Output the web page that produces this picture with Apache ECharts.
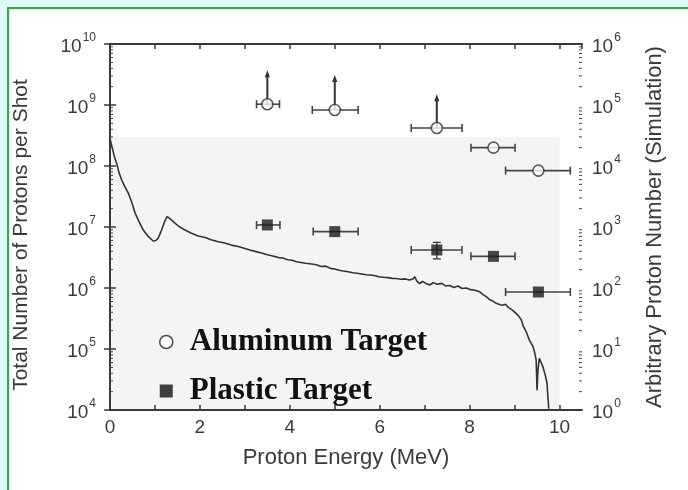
<!DOCTYPE html>
<html>
<head>
<meta charset="utf-8">
<script src="https://cdn.jsdelivr.net/npm/echarts@6/dist/echarts.min.js"></script>
<style>
html,body{margin:0;padding:0;background:#e0fafa;}
#main{width:688px;height:490px;}
</style>
</head>
<body>
<div id="main"></div>
<script>
// ---- Data ----
const aluminumX = [3.5, 5.0, 7.27, 8.53, 9.53];
const aluminumY = [1.03e9, 8.3e8, 4.2e8, 2.0e8, 8.4e7];
const aluminumXLow = [3.26, 4.5, 6.70, 8.03, 8.80];
const aluminumXHigh = [3.77, 5.52, 7.83, 9.01, 10.24];
const aluminumArrowTop = [3.7e9, 3.1e9, 1.5e9, null, null];

const plasticX = [3.5, 5.0, 7.27, 8.53, 9.53];
const plasticY = [1.08e7, 8.4e6, 4.2e6, 3.3e6, 8.6e5];
const plasticXLow = [3.26, 4.52, 6.70, 8.03, 8.80];
const plasticXHigh = [3.78, 5.52, 7.83, 9.01, 10.24];
const plasticYLow = [null, null, 3.0e6, null, null];
const plasticYHigh = [null, null, 5.6e6, null, null];

const simEnergy = [0.00,0.05,0.10,0.15,0.20,0.26,0.33,0.41,0.48,0.56,0.65,0.74,0.85,0.96,1.02,1.07,1.15,1.22,1.27,1.32,1.37,1.45,1.55,1.67,1.80,1.96,2.10,2.25,2.41,2.55,2.70,2.85,3.00,3.11,3.25,3.37,3.50,3.62,3.75,3.85,3.95,4.05,4.15,4.25,4.35,4.45,4.59,4.70,4.80,4.90,5.00,5.10,5.19,5.30,5.40,5.50,5.60,5.70,5.78,5.88,5.98,6.08,6.18,6.28,6.37,6.47,6.57,6.66,6.74,6.78,6.83,6.89,6.95,7.02,7.11,7.19,7.28,7.38,7.46,7.56,7.65,7.74,7.83,7.93,8.02,8.12,8.22,8.30,8.37,8.44,8.50,8.56,8.62,8.68,8.74,8.80,8.86,8.96,9.04,9.10,9.15,9.20,9.26,9.33,9.38,9.41,9.45,9.48,9.50,9.52,9.55,9.60,9.63,9.68,9.72,9.76];
const simCounts = [28000,20000,14000,11000,7800,5900,4600,3550,2600,1680,1200,890,700,590,600,650,900,1250,1480,1400,1300,1150,1000,890,800,710,680,620,575,545,505,480,445,420,395,375,350,335,315,310,290,285,270,262,255,250,240,225,228,210,205,196,190,185,178,174,170,165,163,160,153,150,148,144,143,139,141,135,140,153,128,118,128,120,112,122,115,119,108,110,102,108,98,100,94,92,87,78,72,65,62,58,55,53,52,54,48,43,38,34,30,23,19,14,12,11,8.5,6.6,2.1,4.5,7,5.8,5.1,3.8,2.8,1.05];

const xTicks = [0, 2, 4, 6, 8, 10];

// minor log ticks (2..9 in each decade) on the left-axis scale
const minorLogTicks = [];
for (let e = 4; e < 10; e++) for (let m = 2; m <= 9; m++) minorLogTicks.push(m * Math.pow(10, e));

const chart = echarts.init(document.getElementById('main'), null, {renderer: 'canvas'});

const labelFont = '"Liberation Sans", Arial, sans-serif';
const axisColor = '#3a3a3a';
const powRich = {
  b: {fontSize: 19, fontFamily: labelFont, color: axisColor, verticalAlign: 'bottom', lineHeight: 24},
  e: {fontSize: 12, fontFamily: labelFont, color: axisColor, verticalAlign: 'top', lineHeight: 24, padding: [0, 0, 0, 1]}
};
function powFmt(v) {
  const e = Math.round(Math.log10(v));
  return '{b|10}{e|' + e + '}';
}

const alData = aluminumX.map((x, i) => [x, aluminumY[i]]);
const plData = plasticX.map((x, i) => [x, plasticY[i]]);
const alErr = aluminumX.map((x, i) => [x, aluminumY[i], aluminumXLow[i], aluminumXHigh[i]]);
const plErr = plasticX.map((x, i) => [x, plasticY[i], plasticXLow[i], plasticXHigh[i]]);
const arrows = aluminumX.map((x, i) => [x, aluminumY[i], aluminumArrowTop[i]]).filter(d => d[2] != null);
const plVErr = plasticX.map((x, i) => [x, plasticYLow[i], plasticYHigh[i]]).filter(d => d[1] != null);
const simData = simEnergy.map((x, i) => [x, simCounts[i]]);

function hErrRender(params, api) {
  const p0 = api.coord([api.value(2), api.value(1)]);
  const p1 = api.coord([api.value(3), api.value(1)]);
  const c = 4;
  const st = {stroke: '#444', lineWidth: 1.6};
  return {type: 'group', children: [
    {type: 'line', shape: {x1: p0[0], y1: p0[1], x2: p1[0], y2: p1[1]}, style: st},
    {type: 'line', shape: {x1: p0[0], y1: p0[1] - c, x2: p0[0], y2: p0[1] + c}, style: st},
    {type: 'line', shape: {x1: p1[0], y1: p1[1] - c, x2: p1[0], y2: p1[1] + c}, style: st}
  ]};
}
function vErrRender(params, api) {
  const p0 = api.coord([api.value(0), api.value(1)]);
  const p1 = api.coord([api.value(0), api.value(2)]);
  const c = 4;
  const st = {stroke: '#444', lineWidth: 1.4};
  return {type: 'group', children: [
    {type: 'line', shape: {x1: p0[0], y1: p0[1], x2: p1[0], y2: p1[1]}, style: st},
    {type: 'line', shape: {x1: p0[0] - c, y1: p0[1], x2: p0[0] + c, y2: p0[1]}, style: st},
    {type: 'line', shape: {x1: p1[0] - c, y1: p1[1], x2: p1[0] + c, y2: p1[1]}, style: st}
  ]};
}
function arrowRender(params, api) {
  const p0 = api.coord([api.value(0), api.value(1)]);
  const p1 = api.coord([api.value(0), api.value(2)]);
  return {type: 'group', children: [
    {type: 'line', shape: {x1: p0[0], y1: p0[1], x2: p1[0], y2: p1[1] + 4}, style: {stroke: '#333', lineWidth: 2}},
    {type: 'polygon', shape: {points: [[p1[0], p1[1]], [p1[0] - 2.6, p1[1] + 7], [p1[0] + 2.6, p1[1] + 7]]}, style: {fill: '#333'}}
  ]};
}
function minorTickRender(params, api) {
  const y = api.value(0);
  const pl = api.coord([0, y]);
  const pr = api.coord([10.5, y]);
  const st = {stroke: '#444', lineWidth: 1};
  return {type: 'group', children: [
    {type: 'line', shape: {x1: pl[0], y1: pl[1], x2: pl[0] + 3, y2: pl[1]}, style: st},
    {type: 'line', shape: {x1: pr[0], y1: pr[1], x2: pr[0] - 3, y2: pr[1]}, style: st}
  ]};
}

const option = {
  backgroundColor: '#e0fafa',
  animation: false,
  graphic: [
    {type: 'rect', shape: {x: 8, y: 8, width: 700, height: 500}, style: {fill: '#ffffff', stroke: '#2fae3a', lineWidth: 2}, z: -10, silent: true}
  ],
  grid: {left: 110, right: 106, top: 44, bottom: 80, show: false},
  legend: {
    orient: 'vertical', left: 159, top: 324, itemGap: 13, padding: 0,
    itemWidth: 13, itemHeight: 13,
    textStyle: {fontFamily: '"Liberation Serif", "Times New Roman", serif', fontWeight: 'bold', fontSize: 31, lineHeight: 36, color: '#111', padding: [0, 0, 0, 12]},
    data: [
      {name: 'Aluminum Target', icon: 'circle', itemStyle: {color: '#fff', borderColor: '#222', borderWidth: 1.5}},
      {name: 'Plastic Target', icon: 'rect', itemStyle: {color: '#111'}}
    ]
  },
  xAxis: [
    {
      type: 'value', min: 0, max: 10.5, interval: 1, position: 'bottom',
      name: 'Proton Energy (MeV)', nameLocation: 'middle', nameGap: 37,
      nameTextStyle: {fontSize: 22, fontFamily: labelFont, color: axisColor},
      axisLine: {lineStyle: {color: axisColor, width: 2}},
      axisTick: {inside: true, length: 5, lineStyle: {color: axisColor, width: 1.5}},
      axisLabel: {fontSize: 19, fontFamily: labelFont, color: axisColor, margin: 8, showMaxLabel: false,
        formatter: v => (xTicks.indexOf(v) >= 0 ? String(v) : '')},
      splitLine: {show: false}
    },
    {
      type: 'value', min: 0, max: 10.5, interval: 1, position: 'top',
      axisLine: {lineStyle: {color: axisColor, width: 2}},
      axisTick: {inside: true, length: 5, lineStyle: {color: axisColor, width: 1.5}},
      axisLabel: {show: false}, splitLine: {show: false}
    }
  ],
  yAxis: [
    {
      type: 'log', logBase: 10, min: 1e4, max: 1e10, position: 'left',
      name: 'Total Number of Protons per Shot', nameLocation: 'middle', nameGap: 78,
      nameTextStyle: {fontSize: 21, fontFamily: labelFont, color: axisColor, padding: [0, 16, 0, 0]},
      axisLine: {show: true, lineStyle: {color: axisColor, width: 2}},
      axisTick: {inside: true, length: 6, lineStyle: {color: axisColor, width: 1.5}},
      axisLabel: {margin: 14, formatter: powFmt, rich: powRich},
      splitLine: {show: false}
    },
    {
      type: 'log', logBase: 10, min: 1, max: 1e6, position: 'right',
      name: 'Arbitrary Proton Number (Simulation)', nameLocation: 'middle', nameGap: 62,
      nameTextStyle: {fontSize: 22, fontFamily: labelFont, color: axisColor},
      axisLine: {show: true, lineStyle: {color: axisColor, width: 2}},
      axisTick: {inside: true, length: 6, lineStyle: {color: axisColor, width: 1.5}},
      axisLabel: {margin: 10, formatter: powFmt, rich: powRich},
      splitLine: {show: false}
    }
  ],
  series: [
    {
      type: 'custom', name: 'minorTicks', renderItem: minorTickRender, data: minorLogTicks.map(v => [v]),
      encode: {y: 0}, xAxisIndex: 0, yAxisIndex: 0, clip: false, silent: true, z: 5
    },
    {
      type: 'line', name: 'Simulation', xAxisIndex: 0, yAxisIndex: 1, data: simData,
      showSymbol: false, symbol: 'none', lineStyle: {color: '#333', width: 1.6}, z: 2,
      markArea: {silent: true, itemStyle: {color: '#f4f4f4'}, data: [[{coord: [0, 1]}, {coord: [10, 30000]}]], z: 0}
    },
    {type: 'custom', name: 'alErr', renderItem: hErrRender, data: alErr, encode: {x: 0, y: 1}, z: 3},
    {type: 'custom', name: 'plErr', renderItem: hErrRender, data: plErr, encode: {x: 0, y: 1}, z: 3},
    {type: 'custom', name: 'plVErr', renderItem: vErrRender, data: plVErr, encode: {x: 0, y: 1}, z: 3},
    {type: 'custom', name: 'arrows', renderItem: arrowRender, data: arrows, encode: {x: 0, y: 1}, z: 3},
    {
      type: 'scatter', name: 'Aluminum Target', data: alData, symbol: 'circle', symbolSize: 11,
      itemStyle: {color: '#fff', borderColor: '#333', borderWidth: 1.6}, z: 4
    },
    {
      type: 'scatter', name: 'Plastic Target', data: plData, symbol: 'rect', symbolSize: 11,
      itemStyle: {color: '#1a1a1a'}, z: 4
    }
  ]
};
chart.setOption(option);
</script>
</body>
</html>
